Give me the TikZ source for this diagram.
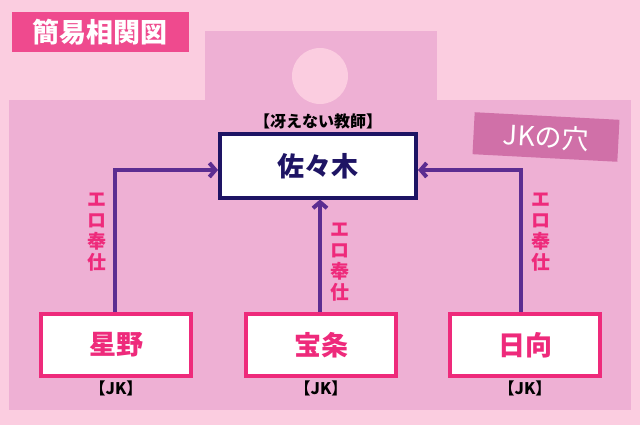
\documentclass[tikz,border=0pt]{standalone}
\usepackage{fontspec}
\setmainfont{Noto Sans CJK JP}
\usetikzlibrary{positioning,arrows.meta}
\definecolor{bgcolor}{RGB}{251,205,224}
\definecolor{panelcolor}{RGB}{238,176,212}
\definecolor{titlecolor}{RGB}{239,74,142}
\definecolor{tagcolor}{RGB}{208,112,168}
\definecolor{teachercolor}{RGB}{30,20,100}
\definecolor{jkcolor}{RGB}{238,42,123}
\definecolor{arrowcolor}{RGB}{92,45,145}

\begin{document}
\begin{tikzpicture}[x=1pt, y=-1pt, thick,
  teacher/.style = {draw=teachercolor, line width=4pt, fill=white, minimum width=196pt, minimum height=63pt, text=teachercolor, font=\fontsize{27}{27}\selectfont\bfseries},
  jk/.style = {draw=jkcolor, line width=4pt, fill=white, minimum width=150pt, minimum height=62pt, text=jkcolor, font=\fontsize{27}{27}\selectfont\bfseries},
  tag/.style = {font=\fontsize{16}{16}\selectfont\bfseries},
  service/.style = {text=jkcolor, align=center, inner sep=1pt, font=\fontsize{19}{21}\selectfont\bfseries},
  link/.style = {draw=arrowcolor, line width=4pt, -{Straight Barb[length=6pt,width=14pt]}}]
		\fill[bgcolor] (0,0) rectangle (640,425);
		\useasboundingbox (0,0) rectangle (640,425);
		\fill[panelcolor] (9,100) rectangle (631,410);
		\fill[panelcolor] (205,31) rectangle (437,100);
		\fill[bgcolor] (320,76) circle (28);
		
		\node[fill=titlecolor, text=white, minimum width=177pt, minimum height=40pt, font=\fontsize{27}{27}\selectfont\bfseries] (Title) at (100,32) {簡易相関図};
		\node[fill=tagcolor, text=white, rotate=-3, minimum width=145pt, minimum height=42pt, font=\fontsize{27}{27}\selectfont] (Hole) at (546,137) {JKの穴};
		
		\node[teacher] (Sasaki) at (318,166) {佐々木};
		\node[tag] (SasakiTag) [above=0pt of Sasaki] {【冴えない教師】};
		
		\node[jk] (Hoshino) at (116,345) {星野};
		\node[jk] (Houjou) at (321,345) {宝条};
		\node[jk] (Hinata) at (525,345) {日向};
		\node[tag] (HoshinoTag) [below=-1pt of Hoshino] {【JK】};
		\node[tag] (HoujouTag) [below=-1pt of Houjou] {【JK】};
		\node[tag] (HinataTag) [below=-1pt of Hinata] {【JK】};
		
		\coordinate (LeftTurn) at (115,170);
		\coordinate (RightTurn) at (521,170);
		\draw[link] (Hoshino.north -| LeftTurn) -- (LeftTurn) -- (LeftTurn -| Sasaki.west);
		\draw[link] (Hinata.north -| RightTurn) -- (RightTurn) -- (RightTurn -| Sasaki.east);
		\draw[link] (Houjou.north -| 320,0) -- (Sasaki.south -| 320,0);
		
		\node[service] (LeftService) at (97,232) {エ\\ロ\\奉\\仕};
		\node[service] (MidService) at (340,262) {エ\\ロ\\奉\\仕};
		\node[service] (RightService) at (541,232) {エ\\ロ\\奉\\仕};
	\end{tikzpicture}
\end{document}
